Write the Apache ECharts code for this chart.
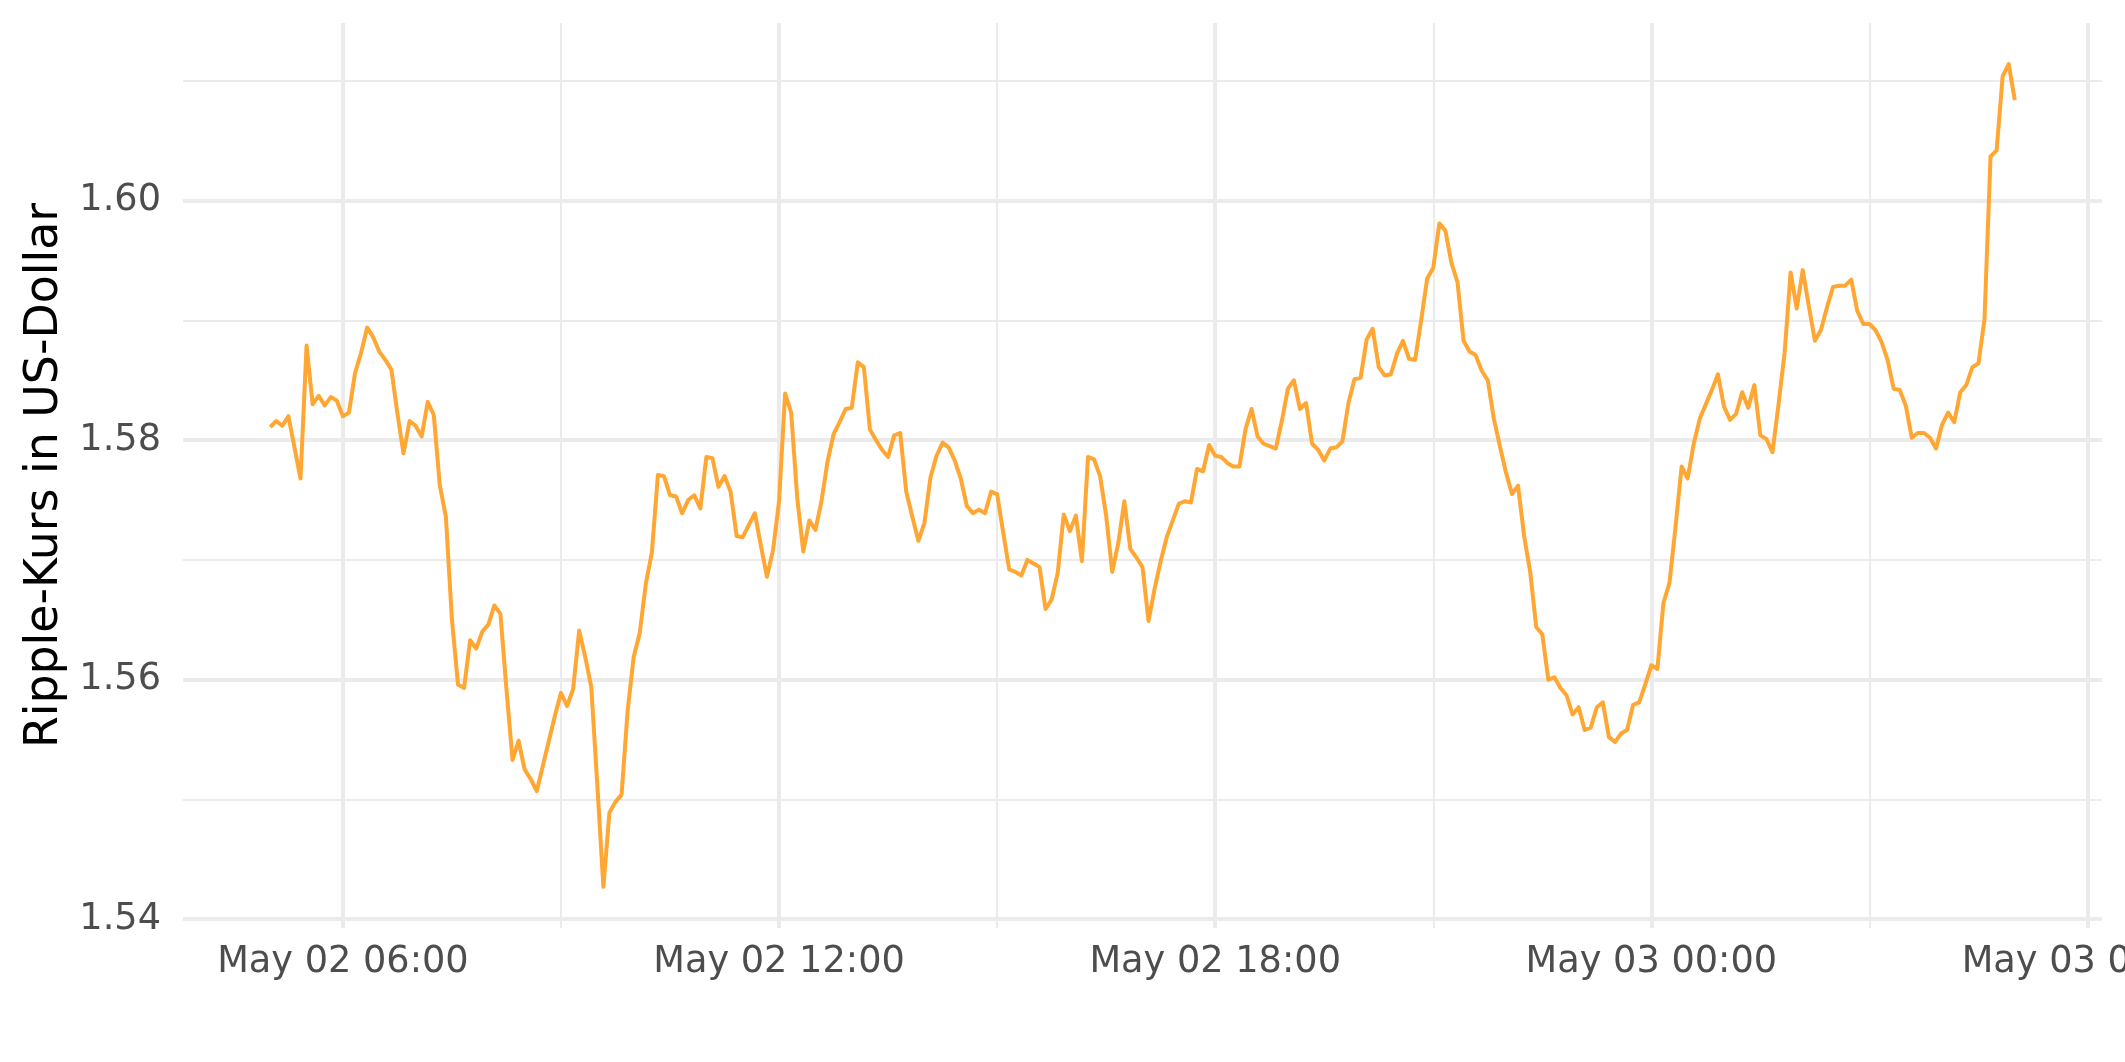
<!DOCTYPE html>
<html>
<head>
<meta charset="utf-8">
<script src="https://cdn.jsdelivr.net/npm/echarts@6/dist/echarts.min.js"></script>
<style>
html,body{margin:0;padding:0;background:#ffffff;}
#chart{width:2125px;height:1062px;}
</style>
</head>
<body>
<div id="chart"></div>
<script>
// ---- data ----
const seriesName = "XRP";
const startTimeUTC = Date.UTC(2021, 4, 2, 5, 0, 0); // May 02 05:00
const stepMinutes = 5;
const prices = [
1.5811,1.5816,1.5812,1.5820,1.5794,1.5768,1.5879,1.5830,1.5837,1.5829,
1.5836,1.5833,1.5820,1.5823,1.5856,1.5873,1.5894,1.5886,1.5874,1.5867,
1.5859,1.5822,1.5789,1.5816,1.5812,1.5803,1.5832,1.5821,1.5762,1.5736,
1.5650,1.5596,1.5593,1.5633,1.5626,1.5640,1.5646,1.5662,1.5655,1.5592,
1.5533,1.5549,1.5525,1.5517,1.5507,1.5528,1.5549,1.5570,1.5589,1.5578,
1.5592,1.5641,1.5619,1.5594,1.5512,1.5427,1.5489,1.5498,1.5504,1.5574,
1.5619,1.5639,1.5680,1.5706,1.5771,1.5770,1.5754,1.5753,1.5739,1.5750,
1.5754,1.5743,1.5786,1.5785,1.5761,1.5770,1.5757,1.5720,1.5719,1.5729,
1.5739,1.5712,1.5686,1.5708,1.5749,1.5839,1.5823,1.5752,1.5707,1.5733,
1.5725,1.5749,1.5782,1.5805,1.5815,1.5826,1.5827,1.5865,1.5861,1.5809,
1.5800,1.5792,1.5786,1.5804,1.5806,1.5757,1.5736,1.5716,1.5731,1.5769,
1.5787,1.5798,1.5794,1.5783,1.5768,1.5745,1.5739,1.5742,1.5739,1.5757,
1.5755,1.5723,1.5692,1.5690,1.5687,1.5700,1.5697,1.5694,1.5659,1.5667,
1.5689,1.5738,1.5724,1.5737,1.5699,1.5786,1.5784,1.5770,1.5737,1.5690,
1.5714,1.5749,1.5709,1.5702,1.5694,1.5649,1.5676,1.5699,1.5719,1.5733,
1.5747,1.5749,1.5748,1.5776,1.5774,1.5796,1.5787,1.5786,1.5781,1.5778,
1.5778,1.5809,1.5826,1.5803,1.5797,1.5795,1.5793,1.5816,1.5843,1.5850,
1.5826,1.5831,1.5797,1.5792,1.5783,1.5793,1.5794,1.5799,1.5831,1.5851,
1.5852,1.5884,1.5893,1.5861,1.5854,1.5855,1.5872,1.5883,1.5868,1.5867,
1.5900,1.5935,1.5944,1.5981,1.5975,1.5948,1.5932,1.5883,1.5874,1.5871,
1.5858,1.5850,1.5818,1.5795,1.5773,1.5755,1.5762,1.5720,1.5690,1.5644,
1.5638,1.5600,1.5602,1.5593,1.5587,1.5571,1.5577,1.5558,1.5560,1.5577,
1.5581,1.5552,1.5548,1.5555,1.5558,1.5579,1.5581,1.5596,1.5612,1.5609,
1.5664,1.5681,1.5728,1.5778,1.5768,1.5797,1.5818,1.5830,1.5842,1.5855,
1.5828,1.5817,1.5822,1.5840,1.5827,1.5846,1.5804,1.5801,1.5790,1.5830,
1.5873,1.5940,1.5910,1.5942,1.5912,1.5883,1.5892,1.5911,1.5928,1.5929,
1.5929,1.5934,1.5908,1.5897,1.5897,1.5892,1.5882,1.5867,1.5843,1.5842,
1.5829,1.5802,1.5806,1.5806,1.5802,1.5793,1.5813,1.5823,1.5815,1.5840,
1.5846,1.5861,1.5864,1.5901,1.6037,1.6042,1.6104,1.6114,1.6084
];
const yTickValues = [1.54, 1.56, 1.58, 1.60];
const yMinorValues = [1.55, 1.57, 1.59, 1.61];
const xTickTimes = ["2021-05-02T06:00:00Z","2021-05-02T12:00:00Z","2021-05-02T18:00:00Z","2021-05-03T00:00:00Z","2021-05-03T06:00:00Z"];
const xMinorTimes = ["2021-05-02T09:00:00Z","2021-05-02T15:00:00Z","2021-05-02T21:00:00Z","2021-05-03T03:00:00Z"];
const yTitle = "Ripple-Kurs in US-Dollar";
const monthNames = ["Jan","Feb","Mar","Apr","May","Jun","Jul","Aug","Sep","Oct","Nov","Dec"];

// ---- build ----
const stepMs = stepMinutes * 60000;
const seriesData = prices.map((p, i) => [startTimeUTC + i * stepMs, p]);
const tMin = startTimeUTC, tMax = startTimeUTC + (prices.length - 1) * stepMs;
const tPad = (tMax - tMin) * 0.05;
const pMin = Math.min(...prices), pMax = Math.max(...prices);
const pPad = (pMax - pMin) * 0.05;
const xMin = tMin - tPad, xMax = tMax + tPad;
const yMin = pMin - pPad, yMax = pMax + pPad;
const xTickMs = xTickTimes.map(s => Date.parse(s));
const xMinorMs = xMinorTimes.map(s => Date.parse(s));
const pad2 = n => (n < 10 ? "0" : "") + n;
const fmtTime = v => { const d = new Date(v); return monthNames[d.getUTCMonth()] + " " + pad2(d.getUTCDate()) + " " + pad2(d.getUTCHours()) + ":" + pad2(d.getUTCMinutes()); };

const FONT = "DejaVu Sans";
const GRID_COLOR = "#EBEBEB";

const chart = echarts.init(document.getElementById("chart"), null, {renderer: "canvas"});
chart.setOption({
  animation: false,
  backgroundColor: "#ffffff",
  grid: {left: 183, right: 23, top: 23, bottom: 134, containLabel: false, outerBoundsMode: "none"},
  xAxis: [
    {
      type: "value", min: xMin, max: xMax, gridIndex: 0, scale: true,
      axisLine: {show: false},
      axisTick: {show: false, customValues: xTickMs},
      axisLabel: {show: true, customValues: xTickMs, formatter: fmtTime, fontFamily: FONT, fontSize: 36.7, color: "#4D4D4D", margin: 16, hideOverlap: false},
      splitLine: {show: true, lineStyle: {color: GRID_COLOR, width: 4}},
      z: 2
    },
    {
      type: "value", min: xMin, max: xMax, gridIndex: 0, position: "top", scale: true,
      axisLine: {show: false},
      axisTick: {show: false, customValues: xMinorMs},
      axisLabel: {show: false, customValues: xMinorMs},
      splitLine: {show: true, lineStyle: {color: GRID_COLOR, width: 2}},
      z: 1
    }
  ],
  yAxis: [
    {
      type: "value", min: yMin, max: yMax, gridIndex: 0, scale: true,
      name: yTitle, nameLocation: "middle", nameGap: 115,
      nameTextStyle: {fontFamily: FONT, fontSize: 45.8, color: "#000000"},
      axisLine: {show: false},
      axisTick: {show: false, customValues: yTickValues},
      axisLabel: {show: true, customValues: yTickValues, formatter: v => v.toFixed(2), fontFamily: FONT, fontSize: 36.7, color: "#4D4D4D", margin: 22},
      splitLine: {show: true, lineStyle: {color: GRID_COLOR, width: 4}},
      z: 2
    },
    {
      type: "value", min: yMin, max: yMax, gridIndex: 0, position: "right", scale: true,
      axisLine: {show: false},
      axisTick: {show: false, customValues: yMinorValues},
      axisLabel: {show: false, customValues: yMinorValues},
      splitLine: {show: true, lineStyle: {color: GRID_COLOR, width: 2}},
      z: 1
    }
  ],
  series: [{
    name: seriesName,
    type: "line",
    xAxisIndex: 0, yAxisIndex: 0,
    data: seriesData,
    showSymbol: false,
    symbol: "none",
    lineStyle: {color: "#FFA633", width: 4, join: "round"},
    itemStyle: {color: "#FFA633"},
    z: 10
  }]
});
</script>
</body>
</html>
